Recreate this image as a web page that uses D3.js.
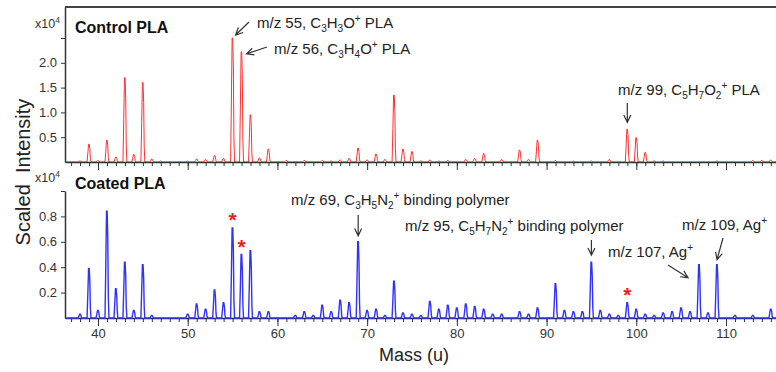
<!DOCTYPE html>
<html>
<head>
<meta charset="utf-8">
<script src="https://cdn.jsdelivr.net/npm/d3@7"></script>
<style>
  body { margin: 0; background: #fff; }
  svg { display: block; font-family: Arial, "Liberation Sans", sans-serif; }
  .tick text { fill: #333; font-size: 13px; }
  .tick line, .domain { stroke: #333; }
</style>
</head>
<body>
<svg id="chart" width="776" height="372"></svg>
<script>
// peaks: [nominal mass, intensity x10^4]
const controlPeaks = [
  [38, 0.02], [39, 0.36], [40, 0.03], [41, 0.44], [42, 0.1], [43, 1.7], [44, 0.15],
  [45, 1.6], [46, 0.06], [47, 0.02], [50, 0.02], [51, 0.06], [52, 0.05], [53, 0.13],
  [54, 0.07], [55, 2.5], [56, 2.22], [57, 0.95], [58, 0.08], [59, 0.26], [61, 0.03],
  [63, 0.03], [65, 0.03], [66, 0.02], [67, 0.04], [68, 0.07], [69, 0.28], [70, 0.04],
  [71, 0.16], [72, 0.05], [73, 1.35], [74, 0.26], [75, 0.21], [76, 0.02], [77, 0.04],
  [78, 0.02], [79, 0.03], [81, 0.05], [82, 0.07], [83, 0.17], [85, 0.05], [87, 0.24],
  [88, 0.05], [89, 0.44], [91, 0.03], [93, 0.02], [95, 0.02], [97, 0.05], [99, 0.66],
  [100, 0.49], [101, 0.19], [102, 0.02], [103, 0.02], [109, 0.02], [113, 0.03],
  [114, 0.03], [115, 0.04]
];
const coatedPeaks = [
  [38, 0.03], [39, 0.39], [40, 0.06], [41, 0.84], [42, 0.23], [43, 0.44], [44, 0.06],
  [45, 0.42], [46, 0.02], [50, 0.03], [51, 0.11], [52, 0.07], [53, 0.22], [54, 0.12],
  [55, 0.71], [56, 0.5], [57, 0.53], [58, 0.05], [59, 0.05], [62, 0.02], [63, 0.05],
  [64, 0.02], [65, 0.1], [66, 0.05], [67, 0.14], [68, 0.12], [69, 0.6], [70, 0.06],
  [71, 0.07], [72, 0.02], [73, 0.29], [74, 0.04], [75, 0.03], [76, 0.02], [77, 0.13],
  [78, 0.07], [79, 0.1], [80, 0.08], [81, 0.11], [82, 0.09], [83, 0.07], [84, 0.03],
  [85, 0.03], [87, 0.05], [88, 0.03], [89, 0.08], [91, 0.27], [92, 0.06], [93, 0.05],
  [94, 0.05], [95, 0.44], [96, 0.06], [97, 0.03], [98, 0.02], [99, 0.12], [100, 0.07],
  [101, 0.03], [102, 0.02], [103, 0.04], [104, 0.05], [105, 0.08], [106, 0.05],
  [107, 0.42], [108, 0.04], [109, 0.42], [111, 0.02], [113, 0.02], [115, 0.07]
];
const majorTicks = [40, 50, 60, 70, 80, 90, 100, 110];
const controlTicks = [0.5, 1.0, 1.5, 2.0, 2.5];
const coatedTicks = [0.2, 0.4, 0.6, 0.8, 1.0];
const starMasses = [55, 56, 99];

// peak outline, offsets in mass units and fraction of height
const peakShape = [[-0.22, 0], [-0.13, 0.5], [-0.05, 1], [0.02, 1], [0.09, 0.75], [0.15, 0.2], [0.22, 0]];

const svg = d3.select("#chart");

// 40 -> 98px, 110 -> 726px, stretched out to the plot edges
const xRef = d3.scaleLinear().domain([40, 110]).range([98, 726]);
const x = d3.scaleLinear().domain([xRef.invert(65), xRef.invert(776)]).range([65, 776]);
const yTop = d3.scaleLinear().domain([0, 3.125]).range([162, 7]);
const yBot = d3.scaleLinear().domain([0, 1]).range([318, 191]);

function spectrum(peaks) {
  const pts = [[x.domain()[0], 0]];
  peaks.forEach(([m, h]) => peakShape.forEach(([dm, f]) => pts.push([m + dm, h * f])));
  pts.push([x.domain()[1], 0]);
  return pts;
}

function xAxes(y0, labels) {
  const g = svg.append("g").attr("transform", `translate(0,${y0})`);
  g.append("g")
    .call(d3.axisBottom(x).tickValues(d3.range(37, 116)).tickSize(4).tickSizeOuter(0).tickFormat(""))
    .call(a => a.select(".domain").attr("stroke-width", 1.5));
  g.append("g")
    .call(d3.axisBottom(x).tickValues(majorTicks).tickSize(8).tickPadding(3)
      .tickFormat(labels ? d3.format("d") : ""))
    .call(a => a.select(".domain").remove());
}

function yAxis(y, ticks, shown) {
  svg.append("g").attr("transform", "translate(65,0)")
    .call(d3.axisLeft(y).tickValues(ticks).tickSize(4).tickSizeOuter(0).tickPadding(4)
      .tickFormat(d => d <= shown ? d.toFixed(1) : ""))
    .call(a => a.select(".domain").attr("stroke-width", 1.5));
}

// ---- control panel
svg.append("line").attr("x1", 65).attr("x2", 776).attr("y1", 7).attr("y2", 7)
  .attr("stroke", "#444").attr("stroke-width", 2);

svg.append("path")
  .datum(spectrum(controlPeaks))
  .attr("fill", "none").attr("stroke", "#ff3030").attr("stroke-width", 1)
  .attr("d", d3.line().x(d => x(d[0])).y(d => yTop(d[1])));

xAxes(162, false);
yAxis(yTop, controlTicks, 2.0);

// ---- coated panel
xAxes(318, true);
yAxis(yBot, coatedTicks, 0.8);

svg.append("path")
  .datum(spectrum(coatedPeaks))
  .attr("fill", "none").attr("stroke", "#3030ff").attr("stroke-width", 1.4)
  .attr("d", d3.line().x(d => x(d[0])).y(d => yBot(d[1])));

// ---- titles
svg.append("text").attr("x", 75).attr("y", 33).attr("font-size", 16).attr("font-weight", "bold")
  .attr("fill", "#111").text("Control PLA");
svg.append("text").attr("x", 75).attr("y", 189).attr("font-size", 16).attr("font-weight", "bold")
  .attr("fill", "#111").text("Coated PLA");

[28, 182].forEach(by => {
  const t = svg.append("text").attr("x", 35).attr("y", by).attr("font-size", 12.5).attr("fill", "#333");
  t.append("tspan").text("x10");
  t.append("tspan").attr("dy", -5).attr("font-size", 8.5).text("4");
});

svg.append("text").attr("transform", "translate(30,172) rotate(-90)")
  .attr("text-anchor", "middle").attr("font-size", 20).attr("fill", "#222")
  .attr("xml:space", "preserve").text("Scaled  Intensity");
svg.append("text").attr("x", 414).attr("y", 361).attr("text-anchor", "middle")
  .attr("font-size", 18).attr("fill", "#222").text("Mass (u)");

// ---- annotations: parts are [text, "sub" | "sup" | ""]
function note(lx, ly, parts) {
  const t = svg.append("text").attr("x", lx).attr("y", ly).attr("font-size", 15).attr("fill", "#222");
  let shift = 0;
  parts.forEach(([s, kind]) => {
    const target = kind === "sub" ? 4 : kind === "sup" ? -6 : 0;
    const ts = t.append("tspan").attr("dy", target - shift).text(s);
    if (kind) ts.attr("font-size", 10);
    shift = target;
  });
}

function arrow(x1, y1, x2, y2) {
  const a = Math.atan2(y2 - y1, x2 - x1), len = 8, spread = 0.45;
  const p = d3.path();
  p.moveTo(x1, y1); p.lineTo(x2, y2);
  p.moveTo(x2 - len * Math.cos(a - spread), y2 - len * Math.sin(a - spread));
  p.lineTo(x2, y2);
  p.lineTo(x2 - len * Math.cos(a + spread), y2 - len * Math.sin(a + spread));
  svg.append("path").attr("d", p.toString()).attr("fill", "none")
    .attr("stroke", "#333").attr("stroke-width", 1.2);
}

note(257, 28, [["m/z 55, C", ""], ["3", "sub"], ["H", ""], ["3", "sub"], ["O", ""], ["+", "sup"], [" PLA", ""]]);
note(274, 54, [["m/z 56, C", ""], ["3", "sub"], ["H", ""], ["4", "sub"], ["O", ""], ["+", "sup"], [" PLA", ""]]);
note(618, 95, [["m/z 99, C", ""], ["5", "sub"], ["H", ""], ["7", "sub"], ["O", ""], ["2", "sub"], ["+", "sup"], [" PLA", ""]]);
note(291, 205, [["m/z 69, C", ""], ["3", "sub"], ["H", ""], ["5", "sub"], ["N", ""], ["2", "sub"], ["+", "sup"], [" binding polymer", ""]]);
note(405, 231, [["m/z 95, C", ""], ["5", "sub"], ["H", ""], ["7", "sub"], ["N", ""], ["2", "sub"], ["+", "sup"], [" binding polymer", ""]]);
note(608, 257, [["m/z 107, Ag", ""], ["+", "sup"]]);
note(682, 230, [["m/z 109, Ag", ""], ["+", "sup"]]);

arrow(249, 22, x(55) + 3, yTop(2.5) - 3);
arrow(267, 47, x(56) + 5, yTop(2.22) + 2);
arrow(x(99), 103, x(99), yTop(0.66) - 7);
arrow(x(69), 215, x(69), yBot(0.6) - 6);
arrow(x(95), 240, x(95), yBot(0.44) - 7);
arrow(668, 265, x(107) - 11, yBot(0.42) + 13);
arrow(723, 238, x(109), yBot(0.42) - 5);

// red asterisks over the shared PLA fragments
const starY = { 55: yBot(0.71) - 12, 56: yBot(0.5) - 12, 99: yBot(0.12) - 12 };
starMasses.forEach(m => {
  svg.append("text").attr("x", x(m)).attr("y", starY[m] + 11).attr("text-anchor", "middle")
    .attr("font-size", 21).attr("font-weight", "bold").attr("fill", "#ee1c1c").text("*");
});
</script>
</body>
</html>
